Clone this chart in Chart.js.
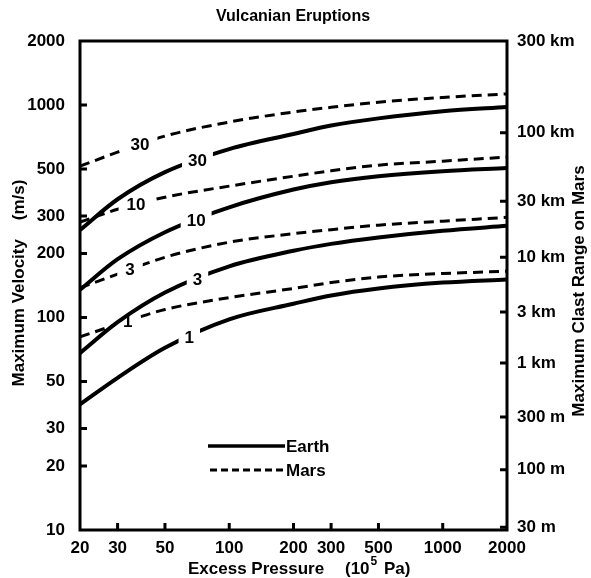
<!DOCTYPE html>
<html>
<head>
<meta charset="utf-8">
<title>Vulcanian Eruptions</title>
<script src="https://cdn.jsdelivr.net/npm/chart.js@4.4.0/dist/chart.umd.min.js"></script>
<style>
  html, body { margin: 0; padding: 0; background: #fff; }
  #wrap { width: 591px; height: 578px; }
</style>
</head>
<body>
<div id="wrap"><canvas id="vulcChart" width="591" height="578"></canvas></div>
<script>
// Excess pressure (10^5 Pa)
const pressure = [20, 30, 50, 100, 200, 300, 500, 1000, 2000];

// curve names written on the lines
const curveNames = ['1', '3', '10', '30'];

// Maximum velocity (m/s) - Earth (solid)
const earth1  = [39, 52, 72, 98, 116, 127, 137, 146, 151];
const earth3  = [68, 95, 131, 174, 206, 222, 238, 256, 270];
const earth10 = [135, 188, 252, 330, 400, 433, 462, 488, 505];
const earth30 = [258, 360, 483, 620, 730, 800, 865, 935, 979];

// Maximum velocity (m/s) - Mars (dashed)
const mars1  = [81, 93, 109, 124, 137, 146, 155, 161, 165];
const mars3  = [138, 160, 192, 226, 248, 259, 272, 284, 296];
const mars10 = [281, 323, 368, 415, 462, 490, 521, 544, 569];
const mars30 = [515, 600, 714, 831, 927, 975, 1030, 1085, 1127];

// tick labels
const xTicks = [20, 30, 50, 100, 200, 300, 500, 1000, 2000];
const yTicks = [10, 20, 30, 50, 100, 200, 300, 500, 1000, 2000];
// clast range on Mars, and the velocity each one sits at
const rangeLabels = ['30 m', '100 m', '300 m', '1 km', '3 km', '10 km', '30 km', '100 km', '300 km'];
const rangeVelocity = [10.3, 19.2, 34, 61, 106, 192, 352, 740, 2000];

// where along each curve its name is written (pressure)
const earthLabelAt = [65, 71, 70, 71];
const marsLabelAt = [33.5, 34.3, 36.6, 38.2];

const FONT = "'Liberation Sans', Arial, Helvetica, sans-serif";

const series = [earth1, earth3, earth10, earth30, mars1, mars3, mars10, mars30];

// value of a curve at pressure p, log-log interpolation
function valueAt(data, p) {
    for (let i = 0; i < pressure.length - 1; i++) {
        if (p >= pressure[i] && p <= pressure[i + 1]) {
            const t = Math.log(p / pressure[i]) / Math.log(pressure[i + 1] / pressure[i]);
            return Math.exp(Math.log(data[i]) + t * (Math.log(data[i + 1]) - Math.log(data[i])));
        }
    }
    return data[data.length - 1];
}

function labelBox(chart, i) {
    const isMars = i >= 4;
    const p = isMars ? marsLabelAt[i - 4] : earthLabelAt[i];
    const v = valueAt(series[i], p);
    const px = chart.scales.x.getPixelForValue(p);
    const py = chart.scales.y.getPixelForValue(v);
    const ctx = chart.ctx;
    ctx.save();
    ctx.font = 'bold 17px ' + FONT;
    const w = ctx.measureText(curveNames[i % 4]).width;
    ctx.restore();
    const pad = isMars ? 8 : 6;
    return { px, py, x0: px - w / 2 - pad, y0: py - 11, w: w + pad * 2, h: 22 };
}

const drawExtras = {
    id: 'drawExtras',
    beforeDatasetDraw(chart, args) {
        const b = labelBox(chart, args.index);
        const ctx = chart.ctx;
        ctx.save();
        ctx.beginPath();
        ctx.rect(0, 0, chart.width, chart.height);
        ctx.rect(b.x0, b.y0, b.w, b.h);
        ctx.clip('evenodd');
    },
    afterDatasetDraw(chart) {
        chart.ctx.restore();
    },
    afterDraw(chart) {
        const ctx = chart.ctx;
        const a = chart.chartArea;
        const sx = chart.scales.x, sy = chart.scales.y;
        ctx.save();
        ctx.strokeStyle = '#000';
        ctx.fillStyle = '#000';

        // frame
        ctx.lineWidth = 3;
        ctx.strokeRect(a.left, a.top, a.right - a.left, a.bottom - a.top);

        // inward tick marks
        ctx.beginPath();
        xTicks.slice(1, -1).forEach(v => {
            const x = sx.getPixelForValue(v);
            ctx.moveTo(x, a.bottom);
            ctx.lineTo(x, a.bottom - 7);
        });
        yTicks.slice(1, -1).forEach(v => {
            const y = sy.getPixelForValue(v);
            ctx.moveTo(a.left, y);
            ctx.lineTo(a.left + 7, y);
        });
        rangeVelocity.forEach(v => {
            const y = sy.getPixelForValue(v);
            if (y > a.top + 3 && y < a.bottom - 2) {
                ctx.moveTo(a.right, y);
                ctx.lineTo(a.right - 7, y);
            }
        });
        ctx.stroke();

        // curve names
        ctx.font = 'bold 17px ' + FONT;
        ctx.textAlign = 'center';
        ctx.textBaseline = 'middle';
        series.forEach((d, i) => {
            const b = labelBox(chart, i);
            ctx.fillText(curveNames[i % 4], b.px, b.py + 1);
        });

        // legend
        ctx.lineWidth = 3.5;
        ctx.beginPath();
        ctx.moveTo(208, 446);
        ctx.lineTo(285, 446);
        ctx.stroke();
        ctx.lineWidth = 3;
        ctx.setLineDash([7, 4]);
        ctx.beginPath();
        ctx.moveTo(210, 470);
        ctx.lineTo(285, 470);
        ctx.stroke();
        ctx.setLineDash([]);
        ctx.textAlign = 'left';
        ctx.fillText('Earth', 286, 447);
        ctx.fillText('Mars', 286, 471);

        // title
        ctx.font = 'bold 16px ' + FONT;
        ctx.textAlign = 'center';
        ctx.fillText('Vulcanian Eruptions', 293, 17);

        // x axis title
        ctx.font = 'bold 17px ' + FONT;
        ctx.textAlign = 'left';
        ctx.fillText('Excess Pressure', 188, 569);
        ctx.fillText('(10', 345, 569);
        let x = 345 + ctx.measureText('(10').width + 1;
        ctx.font = 'bold 12px ' + FONT;
        ctx.fillText('5', x, 562);
        x += ctx.measureText('5').width + 2;
        ctx.font = 'bold 17px ' + FONT;
        ctx.fillText(' Pa)', x, 569);

        // left axis title
        ctx.save();
        ctx.translate(19, 283);
        ctx.rotate(-Math.PI / 2);
        ctx.textAlign = 'center';
        ctx.fillText('Maximum Velocity    (m/s)', 0, 0);
        ctx.restore();

        // right axis title
        ctx.save();
        ctx.translate(579, 291);
        ctx.rotate(-Math.PI / 2);
        ctx.textAlign = 'center';
        ctx.fillText('Maximum Clast Range on Mars', 0, 0);
        ctx.restore();

        ctx.restore();
    }
};

function makeSet(data, dashed) {
    return {
        data: data,
        borderColor: '#000',
        borderWidth: dashed ? 3 : 4,
        borderDash: dashed ? [10, 6] : [],
        pointRadius: 0,
        fill: false,
        cubicInterpolationMode: 'monotone'
    };
}

const ctx = document.getElementById('vulcChart').getContext('2d');

const datasets = series.map((d, i) => makeSet(d, i >= 4));

const vulcChart = new Chart(ctx, {
    type: 'line',
    data: { labels: pressure, datasets: datasets },
    options: {
        responsive: false,
        animation: false,
        layout: { padding: { top: 41, left: 0, right: 0, bottom: 0 } },
        plugins: { legend: { display: false }, tooltip: { enabled: false } },
        scales: {
            x: {
                type: 'logarithmic',
                min: 20,
                max: 2000,
                grid: { display: false, drawTicks: false },
                border: { display: false },
                afterBuildTicks: s => { s.ticks = xTicks.map(v => ({ value: v })); },
                afterFit: s => { s.height = 48; },
                ticks: {
                    autoSkip: false,
                    maxRotation: 0,
                    padding: 8,
                    color: '#000',
                    font: { family: FONT, size: 17, weight: 'bold' },
                    callback: v => String(v)
                }
            },
            y: {
                type: 'logarithmic',
                position: 'left',
                min: 10,
                max: 2000,
                grid: { display: false, drawTicks: false },
                border: { display: false },
                afterBuildTicks: s => { s.ticks = yTicks.map(v => ({ value: v })); },
                afterFit: s => { s.width = 80; },
                ticks: {
                    autoSkip: false,
                    padding: 15,
                    color: '#000',
                    font: { family: FONT, size: 17, weight: 'bold' },
                    callback: v => String(v)
                }
            },
            yRange: {
                type: 'logarithmic',
                position: 'right',
                min: 10,
                max: 2000,
                grid: { display: false, drawTicks: false },
                border: { display: false },
                afterBuildTicks: s => { s.ticks = rangeVelocity.map(v => ({ value: v })); },
                afterFit: s => { s.width = 84; },
                ticks: {
                    autoSkip: false,
                    padding: 10,
                    color: '#000',
                    font: { family: FONT, size: 17, weight: 'bold' },
                    callback: (v, i) => rangeLabels[i]
                }
            }
        }
    },
    plugins: [drawExtras]
});
</script>
</body>
</html>
